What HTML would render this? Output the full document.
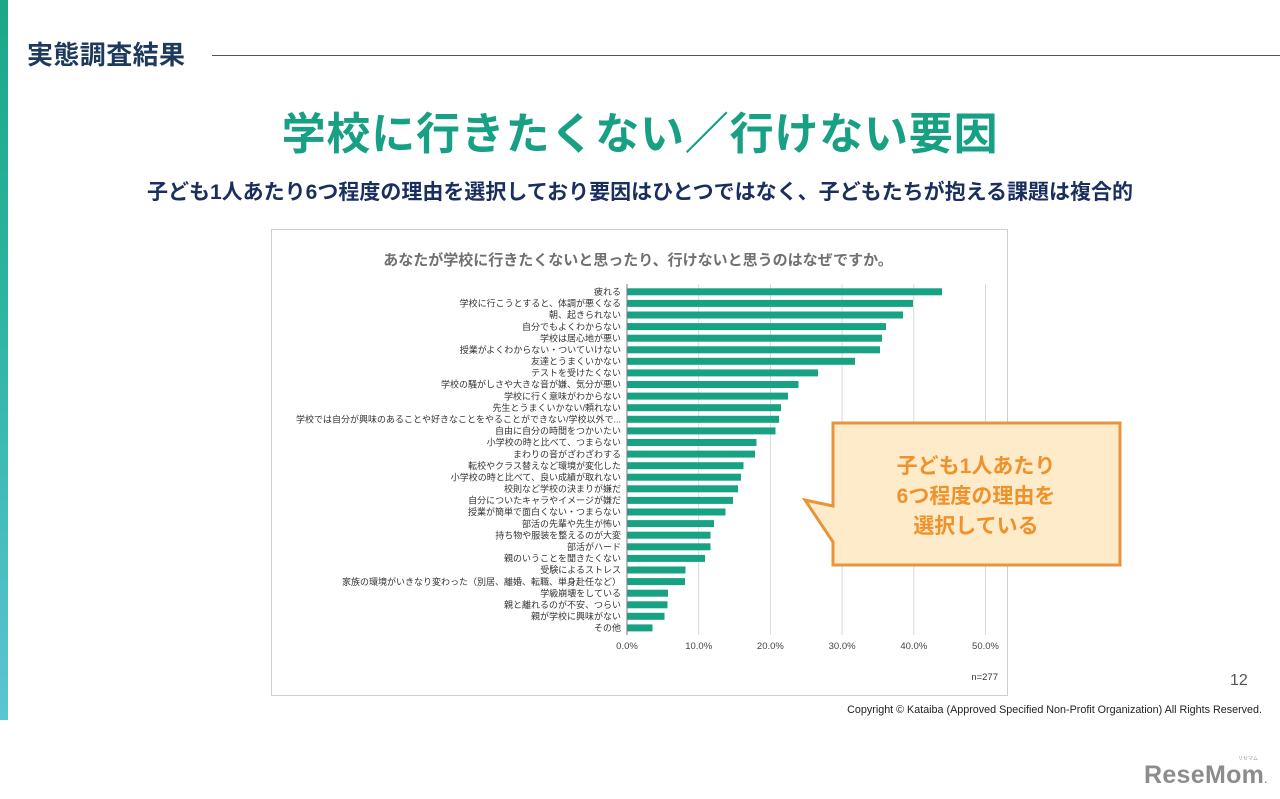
<!DOCTYPE html>
<html lang="ja">
<head>
<meta charset="utf-8">
<style>
  html,body{margin:0;padding:0;background:#fff;}
  body{width:1280px;height:799px;position:relative;overflow:hidden;
       font-family:"Liberation Sans","Noto Sans CJK JP",sans-serif;}
  .abs{position:absolute;white-space:nowrap;}
  #stripe{left:0;top:0;width:8px;height:720px;
          background:linear-gradient(to bottom,#1aa888 0%,#2db3a0 40%,#5cc4d4 100%);}
  #hdr{left:27px;top:41px;font-size:26px;line-height:28px;font-weight:bold;color:#1d3a5e;letter-spacing:0.4px;}
  #hline{left:212px;top:55px;width:1068px;height:1px;background:#555;}
  #title{left:0;width:1280px;top:112px;text-align:center;font-size:44px;line-height:46px;
         font-weight:bold;color:#17a083;letter-spacing:0.8px;}
  #sub{left:0;width:1280px;top:182px;text-align:center;font-size:21px;line-height:22px;
       font-weight:bold;color:#1b2f5e;}
  #page{left:1230px;top:672px;font-size:16px;line-height:18px;color:#555;}
  #copy{right:18px;top:704px;font-size:10.75px;line-height:12px;color:#222;}
  #logo{left:1144px;top:762px;font-size:25px;line-height:26px;font-weight:bold;color:#8c8c8c;letter-spacing:0.3px;}
  #logosmall{left:1238px;top:756px;font-size:5px;line-height:6px;color:#999;}
</style>
</head>
<body>
<div id="stripe" class="abs"></div>
<div id="hdr" class="abs">実態調査結果</div>
<div id="hline" class="abs"></div>
<div id="title" class="abs">学校に行きたくない／行けない要因</div>
<div id="sub" class="abs">子ども1人あたり6つ程度の理由を選択しており要因はひとつではなく、子どもたちが抱える課題は複合的</div>

<svg class="abs" style="left:0;top:0" width="1280" height="799" xmlns="http://www.w3.org/2000/svg"
     font-family="Liberation Sans, Noto Sans CJK JP, sans-serif">
  <rect x="271.5" y="229.5" width="736" height="466" fill="#fff" stroke="#cfcfcf" stroke-width="1"/>
  <text x="638" y="265" text-anchor="middle" font-size="15" font-weight="bold" fill="#707070">あなたが学校に行きたくないと思ったり、行けないと思うのはなぜですか。</text>

  <g stroke="#d9d9d9" stroke-width="1">
    <line x1="698.7" y1="284" x2="698.7" y2="635"/>
    <line x1="770.4" y1="284" x2="770.4" y2="635"/>
    <line x1="842.1" y1="284" x2="842.1" y2="635"/>
    <line x1="913.8" y1="284" x2="913.8" y2="635"/>
    <line x1="985.5" y1="284" x2="985.5" y2="635"/>
  </g>

  <g fill="#17a383">
    <rect x="627" y="288.3" width="315" height="7"/>
    <rect x="627" y="299.9" width="286" height="7"/>
    <rect x="627" y="311.5" width="276" height="7"/>
    <rect x="627" y="323.1" width="259" height="7"/>
    <rect x="627" y="334.7" width="255" height="7"/>
    <rect x="627" y="346.3" width="253" height="7"/>
    <rect x="627" y="357.8" width="228" height="7"/>
    <rect x="627" y="369.4" width="191" height="7"/>
    <rect x="627" y="381.0" width="171.5" height="7"/>
    <rect x="627" y="392.6" width="161" height="7"/>
    <rect x="627" y="404.2" width="154" height="7"/>
    <rect x="627" y="415.8" width="152" height="7"/>
    <rect x="627" y="427.4" width="148.5" height="7"/>
    <rect x="627" y="439.0" width="129.5" height="7"/>
    <rect x="627" y="450.6" width="128" height="7"/>
    <rect x="627" y="462.2" width="116.5" height="7"/>
    <rect x="627" y="473.7" width="114" height="7"/>
    <rect x="627" y="485.3" width="111" height="7"/>
    <rect x="627" y="496.9" width="106" height="7"/>
    <rect x="627" y="508.5" width="98.5" height="7"/>
    <rect x="627" y="520.1" width="87" height="7"/>
    <rect x="627" y="531.7" width="83.5" height="7"/>
    <rect x="627" y="543.3" width="83.5" height="7"/>
    <rect x="627" y="554.9" width="78" height="7"/>
    <rect x="627" y="566.5" width="58.5" height="7"/>
    <rect x="627" y="578.1" width="58" height="7"/>
    <rect x="627" y="589.7" width="41" height="7"/>
    <rect x="627" y="601.3" width="40.5" height="7"/>
    <rect x="627" y="612.8" width="37.5" height="7"/>
    <rect x="627" y="624.4" width="25.5" height="7"/>
  </g>
  <line x1="627" y1="284" x2="627" y2="635" stroke="#777" stroke-width="1"/>

  <g font-size="9" fill="#333" text-anchor="end">
    <text x="621" y="295.0">疲れる</text>
    <text x="621" y="306.6">学校に行こうとすると、体調が悪くなる</text>
    <text x="621" y="318.2">朝、起きられない</text>
    <text x="621" y="329.8">自分でもよくわからない</text>
    <text x="621" y="341.4">学校は居心地が悪い</text>
    <text x="621" y="353.0">授業がよくわからない・ついていけない</text>
    <text x="621" y="364.5">友達とうまくいかない</text>
    <text x="621" y="376.1">テストを受けたくない</text>
    <text x="621" y="387.7">学校の騒がしさや大きな音が嫌、気分が悪い</text>
    <text x="621" y="399.3">学校に行く意味がわからない</text>
    <text x="621" y="410.9">先生とうまくいかない/頼れない</text>
    <text x="621" y="422.5">学校では自分が興味のあることや好きなことをやることができない/学校以外で...</text>
    <text x="621" y="434.1">自由に自分の時間をつかいたい</text>
    <text x="621" y="445.7">小学校の時と比べて、つまらない</text>
    <text x="621" y="457.3">まわりの音がざわざわする</text>
    <text x="621" y="468.9">転校やクラス替えなど環境が変化した</text>
    <text x="621" y="480.4">小学校の時と比べて、良い成績が取れない</text>
    <text x="621" y="492.0">校則など学校の決まりが嫌だ</text>
    <text x="621" y="503.6">自分についたキャラやイメージが嫌だ</text>
    <text x="621" y="515.2">授業が簡単で面白くない・つまらない</text>
    <text x="621" y="526.8">部活の先輩や先生が怖い</text>
    <text x="621" y="538.4">持ち物や服装を整えるのが大変</text>
    <text x="621" y="550.0">部活がハード</text>
    <text x="621" y="561.6">親のいうことを聞きたくない</text>
    <text x="621" y="573.2">受験によるストレス</text>
    <text x="621" y="584.8">家族の環境がいきなり変わった（別居、離婚、転職、単身赴任など）</text>
    <text x="621" y="596.4">学級崩壊をしている</text>
    <text x="621" y="608.0">親と離れるのが不安、つらい</text>
    <text x="621" y="619.5">親が学校に興味がない</text>
    <text x="621" y="631.1">その他</text>
  </g>

  <g font-size="9.5" fill="#444" text-anchor="middle">
    <text x="627" y="649">0.0%</text>
    <text x="698.7" y="649">10.0%</text>
    <text x="770.4" y="649">20.0%</text>
    <text x="842.1" y="649">30.0%</text>
    <text x="913.8" y="649">40.0%</text>
    <text x="985.5" y="649">50.0%</text>
  </g>
  <text x="998" y="680" font-size="9.5" fill="#333" text-anchor="end">n=277</text>

  <path d="M833,423 H1120 V565 H833 V542 L805,500 L833,506 Z" fill="#fdebc9" stroke="#e8943a" stroke-width="3" stroke-linejoin="miter"/>
  <g font-size="21" font-weight="bold" fill="#f0922b" text-anchor="middle">
    <text x="976" y="473">子ども1人あたり</text>
    <text x="976" y="503">6つ程度の理由を</text>
    <text x="976" y="533">選択している</text>
  </g>
</svg>

<div id="page" class="abs">12</div>
<div id="copy" class="abs">Copyright © Kataiba (Approved Specified Non-Profit Organization) All Rights Reserved.</div>
<div id="logosmall" class="abs">リセマム</div>
<div id="logo" class="abs">ReseMom<span style="font-size:10px">.</span></div>
</body>
</html>
